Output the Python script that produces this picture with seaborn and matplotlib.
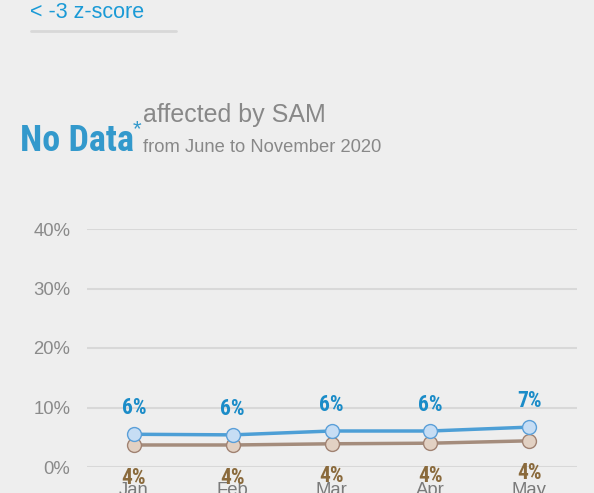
import matplotlib
matplotlib.use("Agg")
import matplotlib.pyplot as plt
from matplotlib import font_manager
import seaborn as sns
import pandas as pd

months = ["Jan", "Feb", "Mar", "Apr", "May"]
series_a = [5.5, 5.4, 6.05, 6.05, 6.7]
series_b = [3.7, 3.7, 3.9, 4.0, 4.4]
labels_a = ["6%", "6%", "6%", "6%", "7%"]
labels_b = ["4%", "4%", "4%", "4%", "4%"]
yticks = [0, 10, 20, 30, 40]
ytick_labels = ["0%", "10%", "20%", "30%", "40%"]

sns.set_theme(style="white")
plt.rcParams['font.family'] = ['Liberation Sans', 'DejaVu Sans']

# pick a condensed family if one is installed
names = {f.name for f in font_manager.fontManager.ttflist}
cond = None
for cand in ["Liberation Sans Narrow", "Roboto Condensed", "Open Sans Condensed",
             "DejaVu Sans Condensed", "Noto Sans Condensed"]:
    if cand in names:
        cond = cand
        break
if cond is not None:
    COND = [cond, "DejaVu Sans"]
    s_nodata, s_val = 26, 15.5
else:
    COND = ["Liberation Sans", "DejaVu Sans"]
    s_nodata, s_val = 21, 12

BG = "#eeeeee"
fig = plt.figure(figsize=(5.94, 4.93), dpi=100, facecolor=BG)
ax = fig.add_axes([87/594, (493-467)/493, 490/594, 238/493], facecolor=BG)

df_a = pd.DataFrame({"month": months, "value": series_a})
df_b = pd.DataFrame({"month": months, "value": series_b})

sns.lineplot(data=df_b, x="month", y="value", ax=ax, color="#a48c7c", linewidth=2.5,
             marker="o", markersize=10, markerfacecolor="#e2d1c3", markeredgecolor="#a08272",
             markeredgewidth=1, zorder=3)
sns.lineplot(data=df_a, x="month", y="value", ax=ax, color="#4d9fd6", linewidth=2.5,
             marker="o", markersize=10, markerfacecolor="#c6ddf4", markeredgecolor="#5b9fd8",
             markeredgewidth=1, zorder=4)

for i, (v, t) in enumerate(zip(series_a, labels_a)):
    ax.annotate(t, (i, v), xytext=(0, 11), textcoords="offset points", ha="center",
                va="bottom", color="#1b8cc8", fontsize=s_val, fontweight="bold",
                family=COND, annotation_clip=False)
for i, (v, t) in enumerate(zip(series_b, labels_b)):
    ax.annotate(t, (i, v), xytext=(0, -15.5), textcoords="offset points", ha="center",
                va="top", color="#8a6a3c", fontsize=s_val, fontweight="bold",
                family=COND, annotation_clip=False)

ax.set_xlim(-0.475, 4.485)
ax.set_ylim(0, 40)
ax.set_yticks(yticks)
ax.set_yticklabels(ytick_labels)
ax.grid(axis="y", color="#d8d8d8", linewidth=1.5)
ax.set_axisbelow(True)
for s in ax.spines.values():
    s.set_visible(False)
ax.tick_params(axis="y", length=0, pad=12, labelsize=13.3, labelcolor="#8a8a8a")
ax.tick_params(axis="x", length=0, pad=11, labelsize=13.3, labelcolor="#7a7a7a")
ax.set_xlabel("")
ax.set_ylabel("")

# header texts
fig.text(30/594, 1 - 12/493, "< -3 z-score", color="#1a9ad6", fontsize=15.5, va="center", ha="left")
fig.add_artist(plt.Line2D([31/594, 176/594], [1 - 31/493, 1 - 31/493], color="#d8d8d8", linewidth=2))

fig.text(20/594, 1 - 141/493, "No Data", color="#3399cc", fontsize=s_nodata, fontweight="bold",
         va="center", ha="left", family=COND)
fig.text(133/594, 1 - 130/493, "*", color="#3399cc", fontsize=16, va="center", ha="left")
fig.text(143/594, 1 - 115/493, "affected by SAM", color="#888888", fontsize=18, va="center", ha="left")
fig.text(143/594, 1 - 147/493, "from June to November 2020", color="#888888", fontsize=13.2,
         va="center", ha="left")

fig.savefig("out.png", dpi=100, facecolor=BG)
